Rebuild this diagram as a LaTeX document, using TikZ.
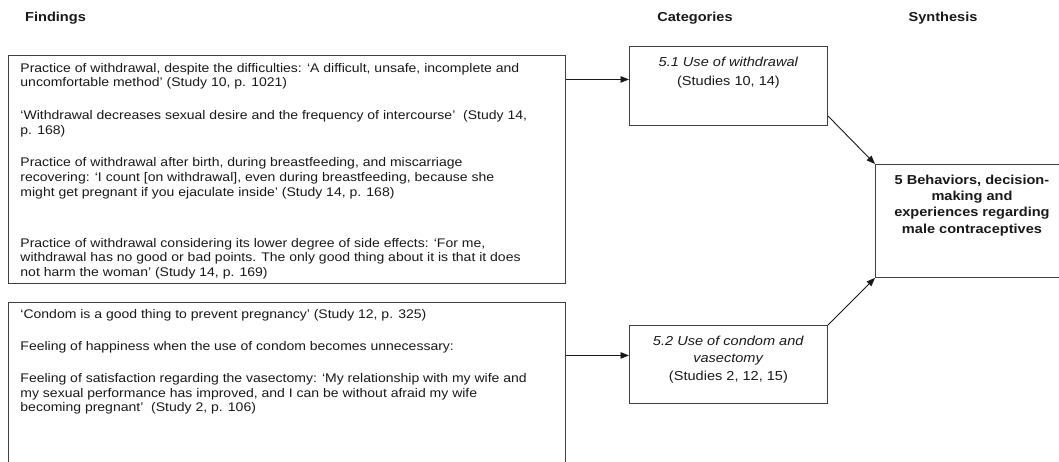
\documentclass[tikz,border=0pt]{standalone}
\usepackage{fontspec}
\setmainfont[FakeStretch=1.12]{Liberation Sans}
\usetikzlibrary{arrows.meta, positioning}
\definecolor{ink}{rgb}{0.10, 0.10, 0.10}
\definecolor{frame}{rgb}{0.25, 0.25, 0.25}

\begin{document}
\begin{tikzpicture}[x=1pt, y=-1pt, text=ink]
    \tikzstyle{head} = [font=\fontsize{13}{16}\selectfont\bfseries, inner sep=0pt]
    \tikzstyle{finding} = [rectangle, draw=frame, line width=0.9pt, anchor=north west, inner xsep=12pt, inner ysep=0pt, font=\fontsize{12.5}{14.7}\selectfont]
    \tikzstyle{category} = [rectangle, draw=frame, line width=0.9pt, anchor=north west, inner sep=0pt, font=\fontsize{13}{16.7}\selectfont]
    \tikzstyle{synthesis} = [rectangle, draw=frame, line width=0.9pt, anchor=north west, inner sep=0pt, font=\fontsize{13}{16.4}\selectfont\bfseries]
    \tikzstyle{arrow} = [draw=ink, line width=0.9pt, -{Triangle[length=8.5pt,width=6.5pt]}]

    \useasboundingbox (0,0) rectangle (1059,462);
    \clip (0,0) rectangle (1059,462);

    % column heads
    \node [head, anchor=base west] (hfind) at (25,21.5) {Findings};
    \node [head, anchor=base] (hcat) at (695,21.5) {Categories};
    \node [head, anchor=base] (hsyn) at (943,21.5) {Synthesis};

    % findings
    \node [finding] (find1) at (8,55) {\parbox[c][228pt][t]{533pt}{\raggedright\vspace*{7.6pt}%
        Practice of withdrawal, despite the difficulties: ‘A difficult, unsafe, incomplete and\\
        uncomfortable method’ (Study 10, p. 1021)\par\vspace{18pt}
        ‘Withdrawal decreases sexual desire and the frequency of intercourse’~ (Study 14,\\
        p. 168)\par\vspace{18pt}
        Practice of withdrawal after birth, during breastfeeding, and miscarriage\\
        recovering: ‘I count [on withdrawal], even during breastfeeding, because she\\
        might get pregnant if you ejaculate inside’ (Study 14, p. 168)\par\vspace{36pt}
        Practice of withdrawal considering its lower degree of side effects: ‘For me,\\
        withdrawal has no good or bad points. The only good thing about it is that it does\\
        not harm the woman’ (Study 14, p. 169)}};
    \node [finding] (find2) at (8,302) {\parbox[c][180pt][t]{533pt}{\raggedright\vspace*{6.5pt}%
        ‘Condom is a good thing to prevent pregnancy’ (Study 12, p. 325)\par\vspace{17.5pt}
        Feeling of happiness when the use of condom becomes unnecessary:\par\vspace{17.5pt}
        Feeling of satisfaction regarding the vasectomy: ‘My relationship with my wife and\\
        my sexual performance has improved, and I can be without afraid my wife\\
        becoming pregnant’~ (Study 2, p. 106)}};

    % categories
    \node [category] (cat1) at (629,46) {\parbox[c][79pt][t]{198pt}{\centering\vspace*{11pt}%
        \textit{5.1 Use of withdrawal}\\[1.5pt]
        (Studies 10, 14)}};
    \node [category] (cat2) at (629,325) {\parbox[c][78pt][t]{198pt}{\centering\vspace*{11pt}%
        \textit{5.2 Use of condom and}\\
        \textit{vasectomy}\\[1.6pt]
        (Studies 2, 12, 15)}};

    % synthesis
    \node [synthesis] (synth) at (875,164) {\parbox[c][113pt][t]{193pt}{\centering\vspace*{10.2pt}%
        5 Behaviors, decision-\\
        making and\\
        experiences regarding\\
        male contraceptives}};

    \coordinate (in1) at ([yshift=6.5pt]cat1.west);
    \coordinate (in2) at ([yshift=9pt]cat2.west);
    \draw [arrow] (find1.east |- in1) -- (in1);
    \draw [arrow] (find2.east |- in2) -- (in2);
    \draw [arrow] ([yshift=10pt]cat1.south east) -- (synth.north west);
    \draw [arrow] (cat2.north east) -- (synth.south west);
\end{tikzpicture}
\end{document}
